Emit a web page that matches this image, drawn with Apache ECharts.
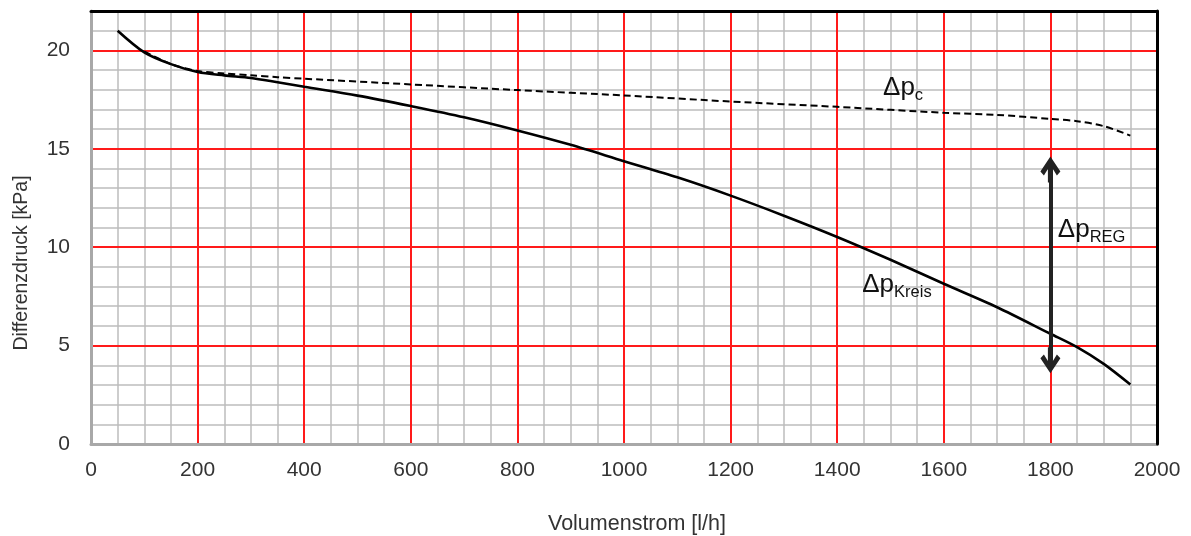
<!DOCTYPE html>
<html>
<head>
<meta charset="utf-8">
<script src="https://cdn.jsdelivr.net/npm/echarts@6/dist/echarts.min.js"></script>
<style>
  html, body { margin: 0; padding: 0; background: #fff; }
  #chart { width: 1191px; height: 536px; }
</style>
</head>
<body>
<div id="chart"></div>
<script>
// Volumenstrom [l/h] und Differenzdruck [kPa]
const flowKreis = [50, 100, 150, 200, 250, 300, 350, 400, 500, 600, 700, 800, 900, 1000, 1100, 1200, 1300, 1400, 1500, 1600, 1700, 1800, 1850, 1900, 1950];
const dpKreis = [21.0, 19.9, 19.3, 18.9, 18.73, 18.6, 18.38, 18.15, 17.7, 17.17, 16.6, 15.93, 15.2, 14.37, 13.55, 12.62, 11.6, 10.52, 9.36, 8.14, 6.95, 5.6, 4.92, 4.07, 3.02];
const flowC = [100, 150, 200, 250, 300, 350, 400, 600, 800, 1000, 1200, 1400, 1600, 1700, 1800, 1850, 1900, 1950];
const dpC = [19.95, 19.3, 18.95, 18.83, 18.73, 18.64, 18.56, 18.27, 17.98, 17.71, 17.4, 17.13, 16.83, 16.72, 16.52, 16.4, 16.15, 15.67];
// Pfeil Δp_REG bei 1800 l/h (Mitte der Pfeilspitzen)
const regFlow = 1800;
const regEnds = [4.25, 13.95];

const xLabels = [0, 200, 400, 600, 800, 1000, 1200, 1400, 1600, 1800, 2000];
const yLabels = [0, 5, 10, 15, 20];

const font = "'Liberation Sans', Arial, sans-serif";
const red = "#ff1a1a";
const grey = "#bdbdbd";

const zip = (a, b) => a.map((v, i) => [v, b[i]]);

const arrowHead = "path://M10,0 L20,14 L16.5,17.5 L12.5,11.5 L12.5,24 L7.5,24 L7.5,11.5 L3.5,17.5 L0,14 Z";

const richDp = {
  a: { fontSize: 26, fontFamily: font, color: "#111" },
  b: { fontSize: 16.5, fontFamily: font, color: "#111", padding: [16, 0, 0, 0] },
};

// Gitterachsen: minor (grau), major (rot), Rahmen (schwarz)
const xBase = { type: "value", min: 0, max: 2000, axisTick: { show: false } };
const yBase = { type: "value", min: 0, max: 22, axisTick: { show: false } };

const chart = echarts.init(document.getElementById("chart"));
chart.setOption({
  animation: false,
  grid: { left: 91, right: 34, top: 11, bottom: 92, outerBoundsMode: "none", containLabel: false },
  xAxis: [
    {
      ...xBase,
      interval: 200,
      position: "bottom",
      axisLine: { show: true, onZero: false, lineStyle: { color: "#a8a8a8", width: 3 } },
      axisLabel: {
        formatter: (v) => (xLabels.includes(v) ? String(v) : ""),
        fontSize: 21,
        color: "#333",
        fontFamily: font,
        margin: 16,
      },
      splitLine: { show: true, lineStyle: { color: red, width: 2 } },
      name: "Volumenstrom [l/h]",
      nameLocation: "middle",
      nameGap: 69,
      nameTextStyle: { fontSize: 21.5, color: "#333", fontFamily: font, padding: [0, 0, 0, 26] },
      z: 2,
    },
    {
      ...xBase,
      position: "top",
      axisLine: { show: true, onZero: false, lineStyle: { color: "#000", width: 3 } },
      axisLabel: { show: false },
      splitLine: { show: false },
      z: 5,
    },
    {
      ...xBase,
      interval: 50,
      position: "bottom",
      axisLine: { show: false },
      axisLabel: { show: false },
      splitLine: { show: true, lineStyle: { color: grey, width: 1.5 } },
      z: 1,
    },
  ],
  yAxis: [
    {
      ...yBase,
      interval: 5,
      position: "left",
      axisLine: { show: true, onZero: false, lineStyle: { color: "#a8a8a8", width: 3 } },
      axisLabel: {
        formatter: (v) => (yLabels.includes(v) ? String(v) : ""),
        fontSize: 21,
        color: "#333",
        fontFamily: font,
        margin: 21,
      },
      splitLine: { show: true, lineStyle: { color: red, width: 2 } },
      name: "Differenzdruck [kPa]",
      nameLocation: "middle",
      nameGap: 59,
      nameTextStyle: { fontSize: 19.5, color: "#333", fontFamily: font, padding: [0, 71, 0, 0] },
      z: 2,
    },
    {
      ...yBase,
      position: "right",
      axisLine: { show: true, onZero: false, lineStyle: { color: "#000", width: 3 } },
      axisLabel: { show: false },
      splitLine: { show: false },
      z: 5,
    },
    {
      ...yBase,
      interval: 1,
      position: "left",
      axisLine: { show: false },
      axisLabel: { show: false },
      splitLine: { show: true, lineStyle: { color: grey, width: 1.5 } },
      z: 1,
    },
  ],
  series: [
    {
      name: "Δp Kreis",
      type: "line",
      data: zip(flowKreis, dpKreis),
      smooth: 0.3,
      showSymbol: false,
      lineStyle: { color: "#000", width: 2.6 },
      z: 3,
      markLine: {
        silent: true,
        symbol: [arrowHead, arrowHead],
        symbolSize: [20, 26],
        lineStyle: { color: "#222", width: 4, type: "solid" },
        label: { show: false },
        data: [[{ coord: [regFlow, regEnds[0]] }, { coord: [regFlow, regEnds[1]] }]],
      },
      markPoint: {
        silent: true,
        symbolSize: 0,
        label: { show: true, position: "right", distance: 0, rich: richDp },
        data: [
          { coord: [1447, 8.1], label: { formatter: "{a|Δp}{b|Kreis}" } },
          { coord: [1814, 10.9], label: { formatter: "{a|Δp}{b|REG}" } },
        ],
      },
    },
    {
      name: "Δp c",
      type: "line",
      data: zip(flowC, dpC),
      smooth: 0.3,
      showSymbol: false,
      lineStyle: { color: "#000", width: 2, type: [7, 4] },
      z: 3,
      markPoint: {
        silent: true,
        symbolSize: 0,
        label: { show: true, position: "right", distance: 0, rich: richDp },
        data: [{ coord: [1486, 18.1], label: { formatter: "{a|Δp}{b|c}" } }],
      },
    },
  ],
});
</script>
</body>
</html>
